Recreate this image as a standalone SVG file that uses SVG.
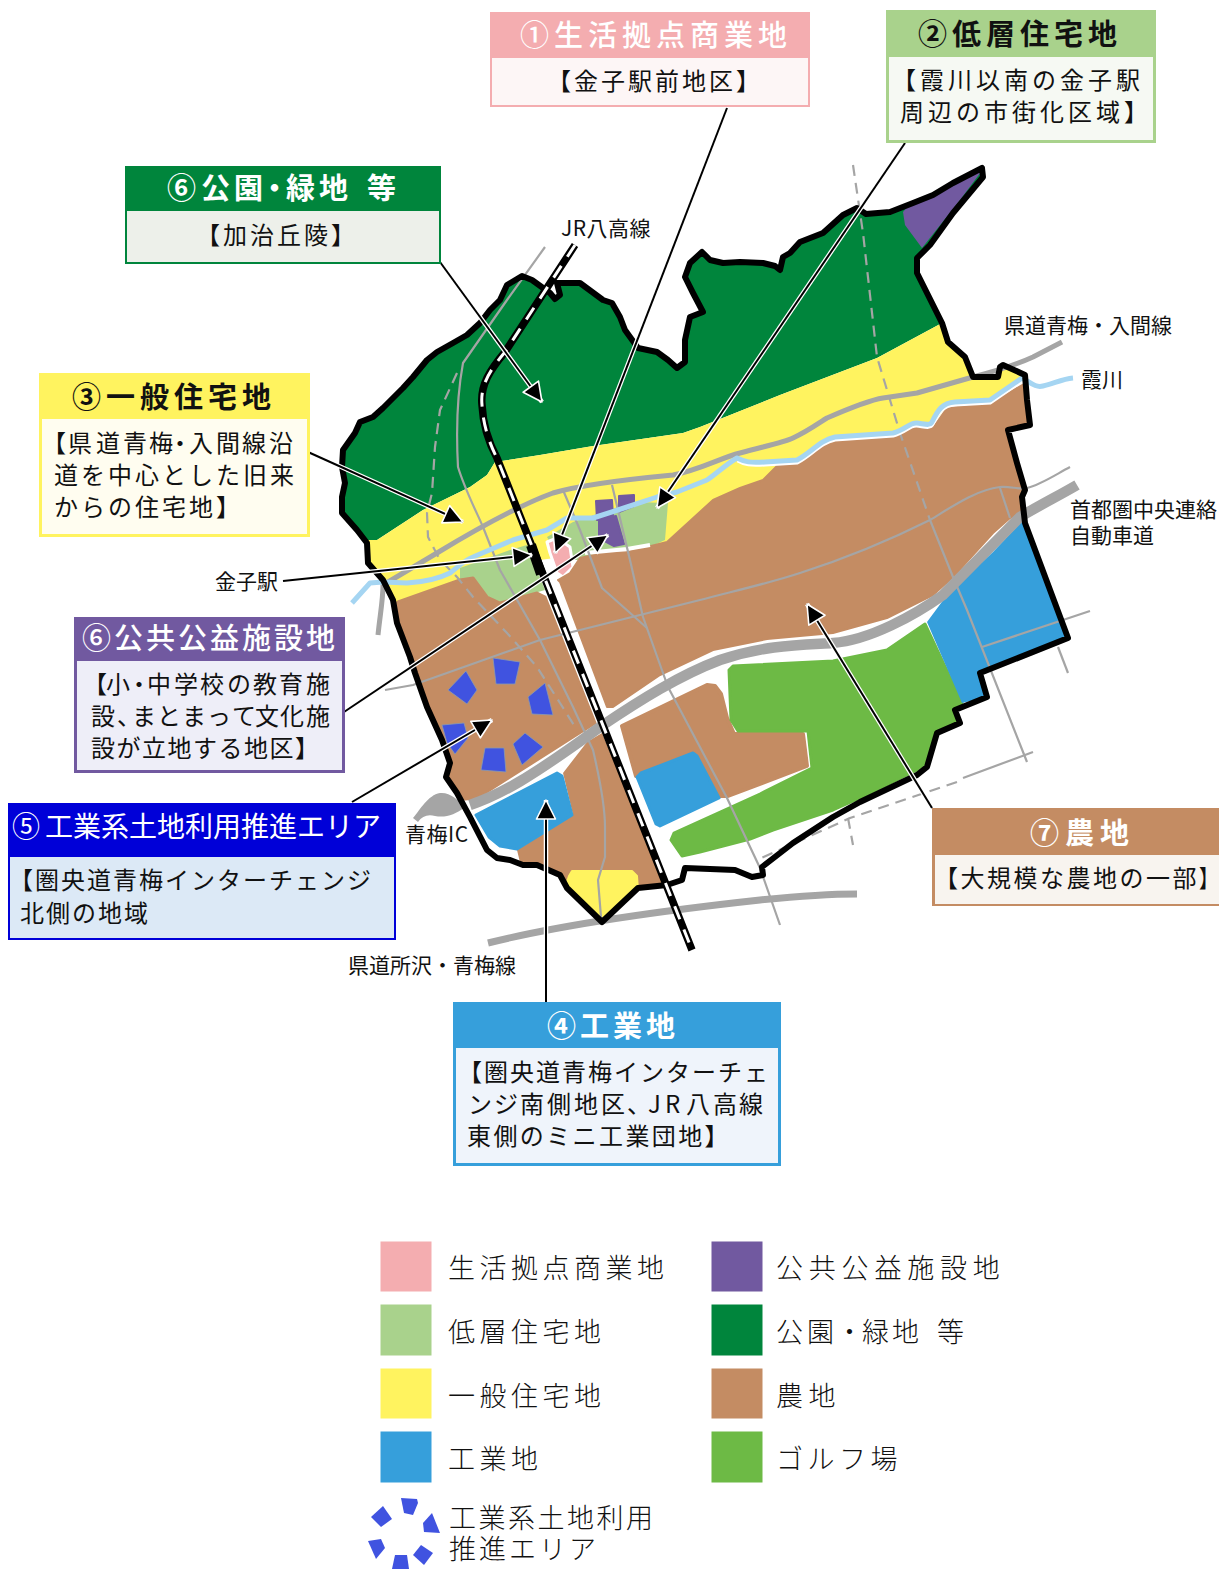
<svg xmlns="http://www.w3.org/2000/svg" width="1219" height="1569" viewBox="0 0 1219 1569">
<style>
text{font-family:"Noto Sans CJK JP","Noto Sans",sans-serif;fill:#111}
.h{font-size:29px}
.hb{font-weight:700}
.w{fill:#fff}
.b{font-size:24px}
.s{font-size:21px}
.l{font-size:27px;font-weight:300;fill:#111}
.road{fill:none;stroke:#a5a5a5;stroke-width:2.2;stroke-linejoin:round}
.dash{stroke-dasharray:11 7}
.thick{fill:none;stroke:#a5a5a5;stroke-width:5;stroke-linejoin:round}
.halo{stroke:#fff;stroke-width:4.5}
.ln{stroke:#000;stroke-width:2}
.ag{fill:#6dba45}.br{fill:#c48c63}.bl{fill:#369fdb}.ye{fill:#fff35f}.pu{fill:#7159a0}.lg{fill:#a9d28c}.pk{fill:#f4adb0}.dg{fill:#00853c}
.p{fill:#4053e0;stroke:#8a9bb0;stroke-width:.8}
.r{stroke-linejoin:round}
</style>
<defs>
<clipPath id="area"><path id="bd" d="M522,276 532,280 550,293 555,299 560,295 557,283 580,283 603,300 612,303 620,317 625,330 638,348 657,352 668,360 677,368 685,362 685,340 690,317 703,312 693,293 685,277 690,263 702,252 710,260 723,263 740,262 763,263 775,266 780,270 783,257 790,253 800,242 823,233 843,215 857,208 866,214 890,212 913,203 933,195 953,183 982,168 983,177 953,213 930,245 917,258 917,273 942,323 948,342 965,357 973,377 998,377 1000,367 1003,365 1025,375 1027,400 1030,425 1008,430 1017,463 1025,490 1022,497 1025,523 1068,638 980,673 987,697 955,710 960,723 937,733 927,767 917,775 860,802 833,817 793,843 762,867 763,875 752,877 735,870 685,868 682,880 667,885 638,888 602,922 567,888 560,875 537,865 523,865 510,860 497,858 487,850 470,817 457,793 446,777 450,763 442,740 427,707 415,673 410,657 397,623 393,600 383,580 368,563 367,543 357,530 342,513 342,497 345,483 342,467 343,450 355,433 360,422 373,417 383,408 403,388 413,377 427,360 437,352 453,343 467,335 480,323 490,310 500,300 507,285Z"/></clipPath>
<marker id="ah" markerUnits="userSpaceOnUse" markerWidth="26" markerHeight="26" viewBox="0 0 26 26" refX="23" refY="13" orient="auto"><path d="M23,13 4,3.5 4,22.5Z" fill="#000" stroke="#fff" stroke-width="1.6" stroke-linejoin="round"/></marker>
</defs>

<g id="map">
<use href="#bd" fill="#fff"/>
<g clip-path="url(#area)">
<path class="dg" d="M300,150H1000L942,323 877,358 780,395 700,427 683,433 593,446 540,455 495,462 487,475 470,487 423,510 377,540 330,540Z"/>
<path class="pu" d="M903,212 905,225 922,248 960,200 990,160 933,190 913,200Z"/>
<path class="ye" d="M942,323 877,358 780,395 700,427 683,433 593,446 540,455 495,462 487,475 470,487 423,510 377,540 350,540 380,615 397,603 457,580 540,560 665,543 713,500 740,488 763,480 778,465 800,462 830,440 897,433 917,422 933,425 947,405 990,402 1022,382 1040,375 980,365Z"/>
<path class="lg" d="M547,537 573,522 633,502 668,503 665,540 650,547 627,550 603,553 585,560 560,560Z"/>
<path class="lg" d="M460,568 510,550 527,545 545,590 500,603 487,597 473,578 460,580Z"/>
<path class="pk r" stroke="#fff" stroke-width="3" d="M547,542 557,538 570,547 573,567 563,577 557,573 550,553Z"/>
<path class="pu r" stroke="#7159a0" stroke-width="2" d="M596,501 612,500 613,517 597,520Z"/>
<path class="pu r" stroke="#7159a0" stroke-width="2" d="M619,496 634,495 634,506 619,512Z"/>
<path class="pu r" stroke="#7159a0" stroke-width="2" d="M599,519 616,516 624,544 614,546 599,538Z"/>
<path class="br r" stroke="#c48c63" stroke-width="2" d="M560,582 558,580 570,573 580,558 603,553 627,552 667,542 713,500 740,488 763,480 778,465 800,463 830,441 897,436 917,425 933,428 947,408 990,404 1024,384 1035,420 1035,500 1025,510 1010,518 993,533 953,577 933,595 887,618 833,633 767,639 713,650 660,675 613,707 607,707Z"/>
<path fill="none" stroke="#fff" stroke-width="4" d="M585,553 627,549 650,545"/>
<path class="br r" stroke="#c48c63" stroke-width="3" d="M398,602 460,580 473,578 487,597 500,603 537,593 545,597 595,723 477,798 465,799 455,795 440,780 400,700 380,620Z"/>
<path class="br" d="M563,773 587,742 602,733 665,883 670,895 600,930 560,890 523,875 517,850 573,815Z"/>
<path class="bl r" stroke="#369fdb" stroke-width="3" d="M476,815 557,773 562,776 572,815 517,849 500,846 489,837Z"/>
<path class="ye r" stroke="#fff35f" stroke-width="2" d="M569,876 572,871 632,871 637,876 638,890 602,925 565,888Z"/>
<path class="br r" stroke="#c48c63" stroke-width="4" d="M622,726 707,685 715,686 721,694 727,718 734,734 803,734 807,766 728,796 718,796 693,752 636,776Z"/>
<path class="bl r" stroke="#369fdb" stroke-width="3" d="M637,777 641,773 693,753 697,756 719,798 660,826 656,824Z"/>
<path class="ag r" stroke="#6dba45" stroke-width="3" d="M733,666 833,661 887,650 925,624 962,703 957,710 960,723 937,732 927,763 917,770 860,798 833,810 773,830 750,839 700,852 682,856 671,840 674,833 760,794 812,768 808,731 738,731 731,720 729,670Z"/>
<path class="bl" d="M927,622 947,595 993,552 1025,518 1075,640 980,675 987,697 962,703Z"/>
</g>
<path fill="#a5a5a5" d="M413,818C420,810 428,795 440,793 450,792 458,800 465,807 455,815 445,818 435,816 428,814 422,816 418,822Z"/>
<g id="roads">
<path class="road" d="M545,247 507,300 463,363C458,390 456,430 458,467 465,490 478,515 483,527L500,570 540,640 573,707 593,750C600,780 605,810 605,827L605,857 598,880 601,917"/>
<path class="road dash" d="M457,373 440,410 435,447 432,493 427,513 428,537 440,560 457,577 473,597 507,633 537,667 560,703 577,730"/>
<path class="road" d="M563,490 580,530 602,588 647,628"/>
<path class="road" d="M612,485 630,560 643,617 668,687 727,798 760,868 780,925"/>
<path class="road" d="M385,690 413,685 540,640 700,600C730,592 770,583 800,573 850,557 900,535 930,520 950,508 975,490 1000,487 1010,486 1020,490 1027,488 1040,485 1055,475 1070,467"/>
<path class="road dash" d="M853,165 863,233 877,357 900,433 930,520"/>
<path class="road" d="M930,520 953,577 967,610 1027,762"/>
<path class="road" d="M1000,488 1010,518"/>
<path class="road" d="M1090,611 982,647"/>
<path class="road" d="M1058,647 1068,673"/>
<path class="road" d="M1033,752 963,778"/>
<path class="road dash" d="M957,782 850,818 757,860"/>
<path class="road dash" d="M848,818 853,845"/>
<path class="thick" d="M378,635C380,615 383,600 383,585 400,575 420,563 437,553 480,527 520,505 553,493 580,485 620,480 673,475 700,470 720,458 740,453 770,445 785,442 793,438 810,430 820,422 827,418 850,408 870,400 883,398L917,393 973,377C1000,370 1020,363 1033,357L1062,342"/>
<path fill="none" stroke="#fff" stroke-width="5" transform="translate(0,2)" d="M738,458C745,462 750,463 765,462L797,460C812,452 820,440 835,437L893,433C905,430 910,422 917,423 925,424 930,426 932,422 938,410 942,403 955,402L990,400 1022,378"/>
<path fill="none" stroke="#a5d5f2" stroke-width="5" stroke-linejoin="round" d="M352,603 370,583 383,582 407,583C425,582 440,578 450,573 460,565 465,560 473,557L513,540 547,530 567,518 593,518 627,507 657,497 677,492 707,480C715,475 725,465 737,458 745,462 750,463 765,462L797,460C812,452 820,440 835,437L893,433C905,430 910,422 917,423 925,424 930,426 932,422 938,410 942,403 955,402L990,400 1022,378C1030,382 1035,388 1043,386 1053,384 1062,379 1073,378"/>
<path fill="none" stroke="#a5a5a5" stroke-width="10.5" d="M470,805C500,795 530,778 600,727 640,700 680,675 720,660 765,645 800,645 833,643 870,640 915,615 943,595L1020,517C1040,505 1060,495 1077,485"/>
<path fill="none" stroke="#a5a5a5" stroke-width="7" d="M488,943C560,925 650,912 760,900 800,896 830,894 857,894"/>
</g>
<use href="#bd" fill="none" stroke="#000" stroke-width="6" stroke-linejoin="round"/>
<g id="railway" fill="none">
<path stroke="#000" stroke-width="7.5" d="M575,245 L505,352 C490,370 480,385 482,405 C483,425 490,445 497,458 L692,950"/>
<path stroke="#fff" stroke-width="3" stroke-dasharray="14 11" d="M575,245 L505,352 C490,370 480,385 482,405 C483,425 490,445 497,458 L692,950"/>
<path stroke="#000" stroke-width="10" d="M531,545 541,574"/>
</g>
<g id="promo">
<path class="p" d="M493,658 520,662 515,684 496,684Z"/>
<path class="p" d="M448,690 466,671 477,690 467,704Z"/>
<path class="p" d="M528,697 545,683 553,715 532,714Z"/>
<path class="p" d="M513,744 525,733 543,747 522,765Z"/>
<path class="p" d="M485,748 504,748 506,772 481,770Z"/>
<path class="p" d="M442,725 464,723 468,738 455,754 447,743Z"/>
</g>
</g>

<g id="connectors">
<line class="halo" x1="727" y1="108" x2="555" y2="553"/><line class="ln" marker-end="url(#ah)" x1="727" y1="108" x2="555" y2="553"/>
<line class="halo" x1="905" y1="143" x2="657" y2="508"/><line class="ln" marker-end="url(#ah)" x1="905" y1="143" x2="657" y2="508"/>
<line class="halo" x1="308" y1="452" x2="463" y2="522"/><line class="ln" marker-end="url(#ah)" x1="308" y1="452" x2="463" y2="522"/>
<line class="halo" x1="283" y1="581" x2="532" y2="555"/><line class="ln" marker-end="url(#ah)" x1="283" y1="581" x2="532" y2="555"/>
<line class="halo" x1="344" y1="712" x2="608" y2="535"/><line class="ln" marker-end="url(#ah)" x1="344" y1="712" x2="608" y2="535"/>
<line class="halo" x1="440" y1="262" x2="542" y2="402"/><line class="ln" marker-end="url(#ah)" x1="440" y1="262" x2="542" y2="402"/>
<line class="halo" x1="352" y1="802" x2="492" y2="720"/><line class="ln" marker-end="url(#ah)" x1="352" y1="802" x2="492" y2="720"/>
<line class="halo" x1="546" y1="1002" x2="546" y2="800"/><line class="ln" marker-end="url(#ah)" x1="546" y1="1002" x2="546" y2="800"/>
<line class="halo" x1="932" y1="808" x2="807" y2="604"/><line class="ln" marker-end="url(#ah)" x1="932" y1="808" x2="807" y2="604"/>
</g>

<g id="labels">
<text class="s" style="letter-spacing:.5px" x="561" y="236">JR八高線</text>
<text class="s" x="1004" y="333">県道青梅・入間線</text>
<text class="s" x="1081" y="387">霞川</text>
<text class="s" x="1070" y="517">首都圏中央連絡</text>
<text class="s" x="1070" y="543">自動車道</text>
<text class="s" x="215" y="589">金子駅</text>
<text class="s" style="letter-spacing:.5px" x="405" y="842">青梅IC</text>
<text class="s" x="348" y="973">県道所沢・青梅線</text>
</g>

<g id="box1">
<rect x="490" y="12" width="320" height="95" fill="#f4adb0"/><rect x="492" y="58" width="316" height="47" fill="#fdf6f6"/>
<text class="h w" style="font-weight:500;letter-spacing:5px" x="520" y="46">①生活拠点商業地</text>
<text class="b" style="letter-spacing:3px" x="547" y="90">【金子駅前地区】</text>
</g>
<g id="box2">
<rect x="886" y="10" width="270" height="133" fill="#a9d28c"/><rect x="889" y="57" width="264" height="83" fill="#f6f9f3"/>
<text class="h hb" style="letter-spacing:5px" x="918" y="45">②低層住宅地</text>
<text class="b" style="letter-spacing:4px" x="892" y="89">【霞川以南の金子駅</text>
<text class="b" style="letter-spacing:4px" x="900" y="121">周辺の市街化区域】</text>
</g>
<g id="box3">
<rect x="39" y="373" width="271" height="164" fill="#fff35f"/><rect x="42" y="419" width="265" height="115" fill="#fffdf0"/>
<text class="h hb" style="letter-spacing:5px" x="72" y="408">③一般住宅地</text>
<text class="b" x="42 68 96 123 149 168 189 216 242 269" y="452">【県道青梅・入間線沿</text>
<text class="b" style="letter-spacing:3px" x="54" y="484">道を中心とした旧来</text>
<text class="b" style="letter-spacing:3px" x="54" y="516">からの住宅地】</text>
</g>
<g id="box4">
<rect x="453" y="1002" width="328" height="164" fill="#369fdb"/><rect x="456" y="1048" width="322" height="115" fill="#eff4fb"/>
<text class="h hb w" style="letter-spacing:4px" x="547" y="1037">④工業地</text>
<text class="b" style="letter-spacing:2px" x="458" y="1081">【圏央道青梅インターチェ</text>
<text class="b" x="468 494 520 547 574 601 627 648 665 686 713 739" y="1113">ンジ南側地区、JR八高線</text>
<text class="b" style="letter-spacing:2.4px" x="467" y="1145">東側のミニ工業団地】</text>
</g>
<g id="box5">
<rect x="8" y="803" width="388" height="137" fill="#0000d8"/><rect x="10" y="857" width="384" height="81" fill="#dce9f6"/>
<text class="w" style="font-size:28px" x="12" y="837">⑤<tspan x="45">工業系土地利用推進エリア</tspan></text>
<text class="b" style="letter-spacing:2px" x="9" y="889">【圏央道青梅インターチェンジ</text>
<text class="b" style="letter-spacing:2px" x="20" y="922">北側の地域</text>
</g>
<g id="box6b">
<rect x="74" y="617" width="271" height="156" fill="#7159a0"/><rect x="77" y="661" width="265" height="109" fill="#eeeef8"/>
<text class="h w" style="font-weight:500;letter-spacing:3px" x="82" y="649">⑥公共公益施設地</text>
<text class="b" x="83 106 127 147 174 200 227 253 279 306" y="693">【小・中学校の教育施</text>
<text class="b" x="91 117 132 157 182 207 232 255 280 306" y="725">設、まとまって文化施</text>
<text class="b" style="letter-spacing:1.5px" x="91" y="757">設が立地する地区】</text>
</g>
<g id="box6a">
<rect x="125" y="166" width="316" height="98" fill="#00853c"/><rect x="127" y="211" width="312" height="51" fill="#edf0ea"/>
<text class="h hb w" x="167 201 234 260 286 319 352 367" y="199">⑥公園・緑地 等</text>
<text class="b" style="letter-spacing:3px" x="196" y="244">【加治丘陵】</text>
</g>
<g id="box7">
<rect x="932" y="808" width="287" height="98" fill="#c48c63"/><rect x="935" y="855" width="284" height="49" fill="#f8f4ef"/>
<text class="h hb w" style="letter-spacing:6px" x="1030" y="844">⑦農地</text>
<text class="b" style="letter-spacing:2.5px" x="934" y="887">【大規模な農地の一部</text>
<text class="b" transform="translate(1199,887) scale(.8,1)" x="0" y="0">】</text>
</g>

<g id="legend">
<rect class="pk" x="380.5" y="1241.5" width="51" height="50"/><text class="l" style="letter-spacing:4.5px" x="448" y="1278">生活拠点商業地</text>
<rect class="lg" x="380.5" y="1304.5" width="51" height="51"/><text class="l" style="letter-spacing:4.5px" x="448" y="1342">低層住宅地</text>
<rect class="ye" x="380.5" y="1368.5" width="51" height="50"/><text class="l" style="letter-spacing:4.5px" x="448" y="1406">一般住宅地</text>
<rect class="bl" x="380.5" y="1431.5" width="51" height="51"/><text class="l" style="letter-spacing:4.5px" x="448" y="1469">工業地</text>
<rect class="pu" x="711.5" y="1241.5" width="51" height="50"/><text class="l" style="letter-spacing:5.8px" x="776" y="1278">公共公益施設地</text>
<rect class="dg" x="711.5" y="1304.5" width="51" height="51"/><text class="l" x="776 807 836 862 892 920 937" y="1342">公園・緑地 等</text>
<rect class="br" x="711.5" y="1368.5" width="51" height="50"/><text class="l" style="letter-spacing:5.5px" x="776" y="1406">農地</text>
<rect class="ag" x="711.5" y="1431.5" width="51" height="51"/><text class="l" style="letter-spacing:4.5px" x="776" y="1469">ゴルフ場</text>
<g fill="#4053e0">
<path d="M401,1498 417,1499 418,1503 413,1515 404,1513Z"/>
<path d="M371,1517 383,1506 392,1519 381,1527Z"/>
<path d="M432,1513 440,1533 424,1532 423,1523Z"/>
<path d="M368,1541 381,1539 385,1548 376,1559Z"/>
<path d="M395,1555 407,1555 409,1569 392,1569Z"/>
<path d="M421,1545 433,1553 424,1565 413,1555Z"/>
</g>
<text class="l" style="letter-spacing:2.5px" x="449" y="1528">工業系土地利用</text>
<text class="l" style="letter-spacing:3px" x="449" y="1559">推進エリア</text>
</g>
</svg>
